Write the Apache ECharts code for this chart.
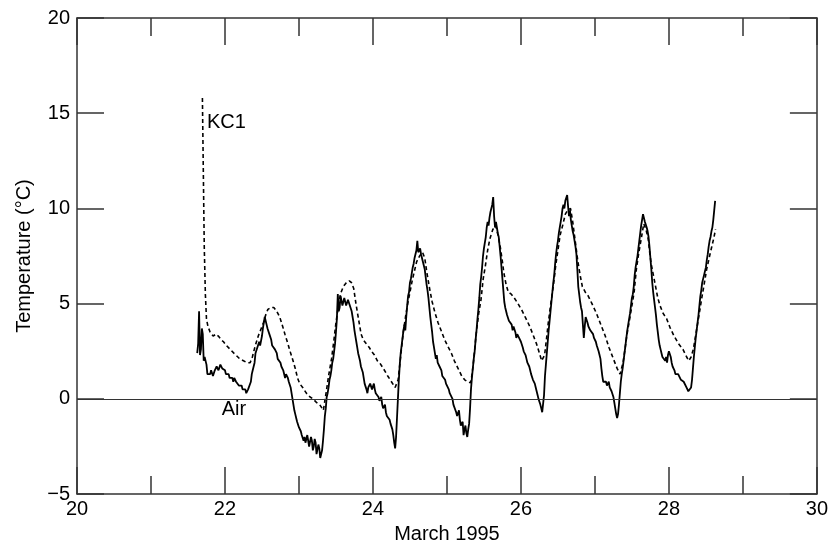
<!DOCTYPE html>
<html>
<head>
<meta charset="utf-8">
<script src="https://cdn.jsdelivr.net/npm/echarts@6/dist/echarts.min.js"></script>
<style>html,body{margin:0;padding:0;background:#fff;}#c{width:831px;height:549px;}</style>
</head>
<body>
<div id="c"></div>
<script>
// ---- data (day of March 1995, temperature °C) ----
// Air: one reading every 0.0125 day starting at day 21.625 (each row = 0.125 day)
const airStart = 21.625, airStep = 0.0125;
const airTemps = [
 2.4,2.9,4.6,2.3,2.6,3.7,3.4,2.0,2.2,2.1,
 1.8,1.3,1.4,1.2,1.3,1.5,1.4,1.2,1.3,1.5,
 1.5,1.7,1.6,1.5,1.6,1.8,1.7,1.6,1.5,1.6,
 1.5,1.3,1.4,1.4,1.3,1.1,1.2,1.2,1.1,0.9,
 1.1,1.0,0.9,1.0,0.9,0.7,0.8,0.8,0.7,0.5,
 0.6,0.6,0.5,0.3,0.4,0.5,0.5,0.6,0.9,1.3,
 1.5,1.4,1.9,2.4,2.3,2.7,2.6,3.0,2.8,2.9,
 3.3,3.7,3.8,4.3,4.2,3.9,3.7,3.6,3.4,3.3,
 3.1,2.8,2.9,2.7,2.6,2.5,2.4,2.1,2.1,2.2,
 1.9,1.7,1.6,1.5,1.4,1.1,1.3,1.3,1.1,0.9,
 0.9,0.6,0.3,0.0,-0.3,-0.6,-0.8,-1.0,-1.2,-1.3,
 -1.5,-1.6,-1.7,-1.9,-1.9,-2.2,-2.0,-2.3,-2.2,-1.9,
 -2.0,-2.5,-2.4,-2.0,-2.2,-2.7,-2.5,-2.1,-2.3,-2.9,
 -2.8,-2.4,-2.6,-3.1,-3.0,-2.7,-2.2,-1.6,-0.9,-0.5,
 0.1,0.3,0.6,1.0,1.2,1.5,1.9,2.1,2.5,2.9,
 3.5,4.2,5.5,4.6,4.8,5.4,5.3,4.9,5.0,5.3,
 5.2,4.9,5.0,5.2,5.1,4.9,4.8,4.6,4.3,4.0,
 3.6,3.3,3.0,2.7,2.4,2.3,2.0,1.7,1.6,1.4,
 1.1,0.8,0.7,0.5,0.3,0.6,0.5,0.8,0.9,0.5,
 0.6,0.8,0.5,0.3,0.2,0.4,0.1,-0.1,-0.1,0.1,
 -0.3,-0.5,-0.5,-0.3,-0.7,-0.9,-0.9,-0.8,-1.1,-1.3,
 -1.4,-1.6,-1.9,-2.3,-2.6,-2.0,-1.0,0.0,1.0,1.8,
 2.4,2.8,3.2,3.6,3.9,3.6,4.3,4.9,5.4,5.6,
 6.1,6.3,6.6,6.9,7.1,7.4,7.5,7.8,8.3,7.7,
 7.6,7.9,7.6,7.4,7.2,7.0,6.8,6.4,6.0,5.7,
 5.3,4.8,4.3,3.9,3.5,3.0,2.7,2.4,2.1,2.3,
 1.9,2.0,1.7,1.6,1.5,1.2,1.1,1.3,1.0,0.8,
 0.7,0.8,0.5,0.3,0.2,0.3,0.0,-0.3,-0.4,-0.2,
 -0.7,-0.9,-0.8,-0.6,-1.1,-1.4,-1.5,-1.2,-1.9,-1.6,
 -1.4,-1.8,-2.0,-1.6,-1.3,-0.5,0.5,1.1,1.6,2.1,
 2.5,3.1,3.6,4.2,4.7,5.3,6.0,6.4,6.9,7.5,
 7.9,8.2,8.5,9.0,9.3,9.1,9.5,9.8,9.9,10.2,
 10.6,9.6,9.0,9.3,9.0,8.7,8.5,8.0,7.5,6.9,
 6.3,5.7,5.1,4.8,4.6,4.4,4.4,4.1,4.2,4.0,
 3.9,3.6,3.8,3.7,3.5,3.2,3.4,3.3,3.2,3.1,
 3.0,2.9,2.7,2.5,2.4,2.3,2.1,1.9,1.8,1.7,
 1.5,1.3,1.2,1.0,0.9,0.8,0.6,0.4,0.2,0.0,
 -0.1,-0.3,-0.5,-0.7,-0.8,0.2,1.2,1.8,2.4,3.0,
 3.6,4.1,4.6,5.1,5.6,6.1,6.5,7.1,7.6,8.0,
 8.3,8.7,9.0,9.3,9.6,10.0,10.2,10.0,10.4,10.5,
 10.7,10.1,9.6,9.9,9.4,9.1,8.8,8.6,8.3,8.0,
 7.6,6.8,5.9,5.5,5.1,4.8,4.6,3.9,3.2,3.8,
 4.3,4.2,4.0,3.8,3.9,3.6,3.7,3.5,3.4,3.2,
 3.1,3.0,2.8,2.7,2.5,2.3,2.1,1.6,1.2,0.9,
 0.8,1.0,0.9,0.7,0.8,0.9,0.6,0.5,0.4,0.3,
 0.1,-0.2,-0.5,-0.8,-1.0,-0.8,-0.3,0.3,0.9,1.3,
 1.6,2.0,2.4,2.8,3.2,3.6,3.9,4.2,4.5,4.9,
 5.3,5.5,5.9,6.5,6.9,7.2,7.5,7.9,8.3,8.7,
 9.1,9.4,9.7,9.5,9.3,9.2,9.0,8.8,8.5,8.0,
 7.4,6.8,6.1,5.6,5.2,4.8,4.4,3.9,3.5,3.1,
 2.8,2.6,2.4,2.2,2.3,2.1,2.0,2.2,1.9,2.3,
 2.5,2.4,2.2,1.9,1.7,1.6,1.5,1.3,1.4,1.4,
 1.3,1.2,1.2,1.0,1.1,1.0,0.9,0.9,0.8,0.6,
 0.5,0.4,0.3,0.3,0.6,1.0,1.6,2.2,2.7,3.2,
 3.6,4.0,4.4,4.9,5.4,5.7,6.1,6.3,6.5,6.7,
 6.9,7.3,7.6,8.0,8.3,8.5,8.8,9.0,9.4,9.9,
 10.4
];
const airDays = airTemps.map((_, i) => +(airStart + i * airStep).toFixed(4));

const kcDays = [
 21.695,21.72,21.735,21.75,21.77,21.80,21.84,21.88,21.91,21.95,21.98,22.02,22.07,22.12,22.16,22.20,22.25,22.30,22.34,22.37,
 22.41,22.45,22.49,22.52,22.55,22.58,22.62,22.66,22.70,22.74,22.78,22.81,22.85,22.88,22.92,22.95,22.98,23.01,23.05,23.10,
 23.15,23.19,23.24,23.28,23.33,23.37,23.40,23.44,23.47,23.50,23.53,23.56,23.60,23.64,23.68,23.71,23.74,23.77,23.80,23.84,
 23.87,23.91,23.95,23.98,24.02,24.06,24.09,24.14,24.20,24.25,24.30,24.32,24.34,24.36,24.39,24.41,24.44,24.47,24.50,24.53,
 24.56,24.59,24.63,24.67,24.70,24.73,24.77,24.80,24.84,24.88,24.92,24.97,25.02,25.06,25.10,25.15,25.20,25.24,25.28,25.32,
 25.34,25.36,25.38,25.40,25.43,25.46,25.49,25.52,25.55,25.58,25.62,25.66,25.69,25.72,25.75,25.77,25.80,25.83,25.87,25.91,
 25.96,26.02,26.07,26.12,26.17,26.21,26.25,26.28,26.30,26.32,26.35,26.37,26.40,26.44,26.47,26.50,26.53,26.57,26.60,26.63,
 26.67,26.70,26.72,26.75,26.77,26.80,26.83,26.87,26.91,26.96,27.02,27.08,27.14,27.19,27.25,27.30,27.34,27.36,27.38,27.41,
 27.43,27.47,27.50,27.53,27.56,27.59,27.63,27.66,27.69,27.72,27.74,27.76,27.79,27.81,27.85,27.88,27.92,27.97,28.02,28.07,
 28.13,28.19,28.24,28.27,28.30,28.33,28.36,28.39,28.42,28.44,28.48,28.51,28.55,28.58,28.61,28.63
];
const kcTemps = [
 15.8,8.0,5.5,4.2,3.8,3.5,3.3,3.4,3.3,3.1,3.0,2.8,2.6,2.4,2.25,2.1,2.0,1.9,1.9,2.2,
 2.8,3.3,3.7,4.0,4.4,4.7,4.8,4.8,4.6,4.3,3.8,3.4,2.9,2.5,2.0,1.6,1.1,0.8,0.6,0.3,
 0.1,0.0,-0.2,-0.3,-0.6,0.4,1.2,2.1,3.0,4.0,4.8,5.5,5.9,6.1,6.2,6.1,5.8,5.0,4.3,3.4,
 3.1,2.9,2.7,2.5,2.3,2.0,1.9,1.6,1.2,0.9,0.6,0.5,1.0,1.7,2.8,3.5,4.3,5.0,5.6,6.2,
 6.7,7.2,7.5,7.7,7.4,6.6,5.7,5.1,4.5,4.0,3.6,3.1,2.7,2.4,2.0,1.6,1.2,1.0,0.9,0.85,
 1.3,2.0,2.8,3.6,4.5,5.2,6.3,7.0,7.8,8.4,8.9,9.1,8.6,8.0,7.2,6.6,6.0,5.6,5.5,5.3,
 5.0,4.6,4.2,3.8,3.3,2.9,2.4,2.0,1.9,2.3,3.3,4.0,4.9,6.0,7.0,7.8,8.6,9.2,9.7,9.9,
 10.0,9.3,8.7,7.8,7.2,6.5,5.9,5.6,5.4,5.0,4.5,3.9,3.3,2.7,2.1,1.6,1.3,1.4,1.9,2.7,
 3.3,4.2,4.9,5.6,6.8,7.6,8.5,9.2,8.9,8.4,7.7,7.1,6.5,6.1,5.3,4.9,4.5,4.2,3.7,3.3,
 2.9,2.6,2.2,2.0,2.2,2.6,3.3,4.0,4.7,5.2,6.1,6.8,7.5,8.0,8.5,8.9
];

const xTicks = [20, 22, 24, 26, 28, 30];
const yTicks = [-5, 0, 5, 10, 15, 20];
const xTitle = 'March 1995';
const yTitle = 'Temperature (°C)';
const airName = 'Air';
const kcName = 'KC1';

// ---- chart ----
const FONT = '"Liberation Sans", Arial, Helvetica, sans-serif';
const AX = '#333';
const chart = echarts.init(document.getElementById('c'), null, {renderer: 'canvas'});

function axisBase(extra) {
  return Object.assign({
    type: 'value',
    axisLine: {show: true, onZero: false, lineStyle: {color: AX, width: 1.5}},
    axisTick: {show: true, inside: true, length: 27, lineStyle: {color: AX, width: 1.5}},
    splitLine: {show: false},
    axisLabel: {show: false}
  }, extra);
}

const pairs = (xs, ys) => xs.map((x, i) => [x, ys[i]]);

chart.setOption({
  animation: false,
  backgroundColor: '#fff',
  textStyle: {fontFamily: FONT},
  grid: {left: 77, right: 14, top: 18, bottom: 54, containLabel: false},
  xAxis: [
    axisBase({
      position: 'bottom', min: xTicks[0], max: xTicks[xTicks.length - 1], interval: 2,
      minorTick: {show: true, splitNumber: 2, length: 18, lineStyle: {color: AX, width: 1.5}},
      axisLabel: {show: true, color: '#000', fontSize: 20, fontFamily: FONT, margin: 5},
      name: xTitle, nameLocation: 'middle', nameGap: 28,
      nameTextStyle: {color: '#000', fontSize: 20, fontFamily: FONT}
    }),
    axisBase({
      position: 'top', min: xTicks[0], max: xTicks[xTicks.length - 1], interval: 2,
      minorTick: {show: true, splitNumber: 2, length: 18, lineStyle: {color: AX, width: 1.5}}
    })
  ],
  yAxis: [
    axisBase({
      position: 'left', min: yTicks[0], max: yTicks[yTicks.length - 1], interval: 5,
      axisLabel: {show: true, color: '#000', fontSize: 20, fontFamily: FONT, margin: 7,
        formatter: v => String(v).replace('-', '\u2212')},
      name: yTitle, nameLocation: 'middle', nameGap: 43,
      nameTextStyle: {color: '#000', fontSize: 20, fontFamily: FONT}
    }),
    axisBase({position: 'right', min: yTicks[0], max: yTicks[yTicks.length - 1], interval: 5})
  ],
  series: [
    {
      name: kcName, type: 'line', xAxisIndex: 0, yAxisIndex: 0,
      data: pairs(kcDays, kcTemps), showSymbol: false, symbol: 'none',
      lineStyle: {color: '#000', width: 1.6, type: [4, 3]},
      markPoint: {
        symbol: 'circle', symbolSize: 0, silent: true,
        label: {show: true, position: 'inside', color: '#000', fontSize: 20, fontFamily: FONT},
        data: [{coord: [22.02, 14.5], value: kcName, label: {formatter: kcName}}]
      }
    },
    {
      name: airName, type: 'line', xAxisIndex: 0, yAxisIndex: 0,
      data: pairs(airDays, airTemps), showSymbol: false, symbol: 'none',
      lineStyle: {color: '#000', width: 1.8},
      markLine: {
        silent: true, symbol: ['none', 'none'], label: {show: false},
        lineStyle: {color: '#333', width: 1, type: 'solid'},
        data: [{yAxis: 0}]
      },
      markPoint: {
        symbol: 'circle', symbolSize: 0, silent: true,
        label: {show: true, position: 'inside', color: '#000', fontSize: 20, fontFamily: FONT},
        data: [{coord: [22.12, -0.55], value: airName, label: {formatter: airName}}]
      }
    }
  ]
});
</script>
</body>
</html>
